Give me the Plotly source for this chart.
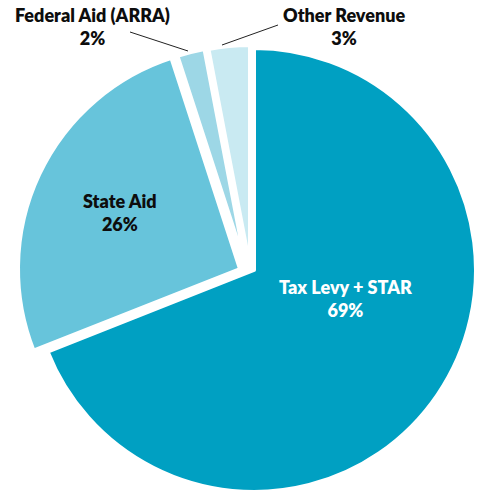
import plotly.graph_objects as go

# ---- data ----
categories = ["Tax Levy + STAR", "State Aid", "Federal Aid (ARRA)", "Other Revenue"]
shares = [69, 26, 2, 3]
colors = ["#00A0C2", "#67C4DB", "#9DD7E6", "#C9EAF2"]

# ---- layout geometry (pixels) ----
W, H = 480, 493
CX, CY, R = 254, 270, 222
# per-slice offset of the exploded slices (pixels)
offsets = [(0, 0), (-14, -1), (-8, -3), (-4, -3)]

fig = go.Figure()
for i, cat in enumerate(categories):
    dx, dy = offsets[i]
    cx, cy = CX + dx, CY + dy
    x0, x1 = (cx - R) / W, (cx + R) / W
    y0, y1 = (H - cy - R) / H, (H - cy + R) / H
    cols = [colors[j] if j == i else "rgba(0,0,0,0)" for j in range(len(categories))]
    lw = [4 if j == i else 0 for j in range(len(categories))]
    fig.add_trace(go.Pie(
        labels=categories, values=shares, sort=False, direction="clockwise",
        rotation=0, marker=dict(colors=cols, line=dict(color="white", width=lw)),
        textinfo="none", hoverinfo="skip", showlegend=False,
        domain=dict(x=[max(0, x0), min(1, x1)], y=[max(0, y0), min(1, y1)]),
    ))

FONT = "Lato"
label_pos = [(345, 298, "white"), (120, 212, "#0d0d0d"), (92, 27, "#0d0d0d"), (344, 27, "#0d0d0d")]
for i, cat in enumerate(categories):
    x, y, c = label_pos[i]
    fig.add_annotation(
        x=x / W, y=1 - y / H, xref="paper", yref="paper", showarrow=False,
        xanchor="center", yanchor="middle",
        text=f"{cat}<br>{shares[i]}%", align="center",
        font=dict(family=FONT, size=18, color=c, weight=800),
    )

# leader lines for the outside labels
leaders = [((130, 32), (188, 51)), ((278, 25), (222, 45))]
for (ax_, ay_), (bx, by) in leaders:
    fig.add_shape(type="line", xref="paper", yref="paper",
                  x0=ax_ / W, y0=1 - ay_ / H, x1=bx / W, y1=1 - by / H,
                  line=dict(color="#222222", width=1))

fig.update_layout(width=W, height=H, margin=dict(l=0, r=0, t=0, b=0),
                  paper_bgcolor="white", plot_bgcolor="white")
fig.write_html("out.html", config={"displayModeBar": False},
               post_script="document.body.style.margin='0';")
